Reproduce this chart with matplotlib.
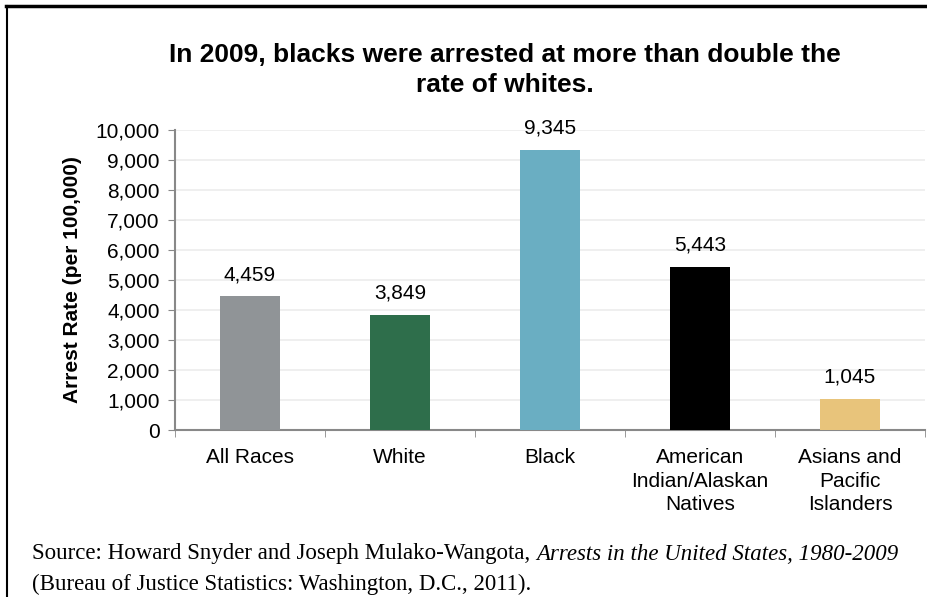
import numpy as np
import matplotlib.pyplot as plt
from matplotlib.lines import Line2D

categories = ['All Races', 'White', 'Black', 'American\nIndian/Alaskan\nNatives', 'Asians and\nPacific\nIslanders']
rates = [4459, 3849, 9345, 5443, 1045]
colors = ['#909497', '#2e6e4b', '#6aaec2', '#000000', '#e8c47b']
yticks = np.arange(0, 10001, 1000)

plt.rcParams['font.family'] = ['Liberation Sans', 'DejaVu Sans']

fig = plt.figure(figsize=(9.28, 5.97), dpi=100)
ax = fig.add_axes([175/928, 167/597, 750/928, 300/597])

x = np.arange(len(categories))
ax.bar(x, rates, width=0.4, color=colors, zorder=3)
for xi, v in zip(x, rates):
    ax.text(xi, v + 400, f'{v:,}', ha='center', va='bottom', fontsize=15)

ax.set_xlim(-0.5, 4.5)
ax.set_ylim(0, 10000)
ax.set_yticks(yticks)
ax.set_yticklabels([f'{t:,}' for t in yticks], fontsize=15)
ax.set_xticks(x)
ax.set_xticklabels(categories, fontsize=15, va='top', linespacing=1.3)
ax.set_xticks(np.arange(-0.5, 5, 1), minor=True)
ax.tick_params(axis='x', which='major', length=0, pad=13)
ax.tick_params(axis='x', which='minor', length=5, color='#888888', direction='out')
ax.tick_params(axis='y', length=5, color='#888888', pad=6)
ax.grid(axis='y', color='#ececec', linewidth=1.2, zorder=0)
for s in ['top', 'right']:
    ax.spines[s].set_visible(False)
for s in ['left', 'bottom']:
    ax.spines[s].set_color('#888888')
    ax.spines[s].set_linewidth(1.5)
ax.set_ylabel('Arrest Rate (per 100,000)', fontsize=15, fontweight='bold', labelpad=10)

fig.text(505/928, 1 - 70/597, 'In 2009, blacks were arrested at more than double the\nrate of whites.',
         ha='center', va='center', fontsize=19, fontweight='bold', linespacing=1.3)

# frame lines
fig.add_artist(Line2D([6/928, 1], [1 - 6/597, 1 - 6/597], color='black', linewidth=2.5))
fig.add_artist(Line2D([7/928, 7/928], [0, 1 - 6/597], color='black', linewidth=1.5))

# source note
serif = ['Liberation Serif', 'DejaVu Serif']
t1 = fig.text(32/928, 1 - 554/597, 'Source: Howard Snyder and Joseph Mulako-Wangota, ',
              ha='left', va='center', fontsize=16.5, family=serif)
ax.annotate('Arrests in the United States, 1980-2009', xy=(1, 0), xycoords=t1,
            ha='left', va='bottom', fontsize=16.5, family=serif, style='italic')
fig.text(32/928, 1 - 584/597, '(Bureau of Justice Statistics: Washington, D.C., 2011).',
         ha='left', va='center', fontsize=16.5, family=serif)

fig.savefig('out.png', dpi=100)
